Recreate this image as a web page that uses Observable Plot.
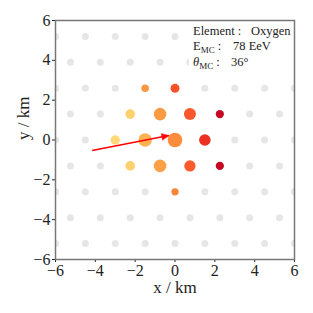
<!DOCTYPE html>
<html>
<head>
<meta charset="utf-8">
<script src="https://cdn.jsdelivr.net/npm/d3@7"></script>
<script src="https://cdn.jsdelivr.net/npm/@observablehq/plot@0.6"></script>
<style>
  html, body { margin: 0; padding: 0; background: white; }
</style>
</head>
<body>
<div id="chart"></div>
<script>
// ---- data ----
const evenRowX = [-6, -4.5, -3, -1.5, 0, 1.5, 3, 4.5, 6];
const oddRowX = [-5.25, -3.75, -2.25, -0.75, 0.75, 2.25, 3.75, 5.25];
const evenRowY = [-5.2, -2.6, 0, 2.6, 5.2];
const oddRowY = [-3.9, -1.3, 1.3, 3.9];

const stationX = [0, -1.5, -3, 1.5, -0.75, 0.75, -2.25, 2.25, -0.75, 0.75, -2.25, 2.25, -1.5, 0, 0];
const stationY = [0, 0, 0, 0, 1.3, 1.3, 1.3, 1.3, -1.3, -1.3, -1.3, -1.3, 2.6, 2.6, -2.6];
const stationSignal = [53, 45, 22, 34, 40, 36, 23, 17, 40, 32, 23, 17, 14, 20, 13];
const stationTiming = [0.49, 0.38, 0.24, 0.70, 0.45, 0.61, 0.27, 0.84, 0.43, 0.60, 0.27, 0.84, 0.46, 0.62, 0.51];

const arrowStart = [-4.16, -0.53];
const arrowEnd = [-0.31, 0.23];

const axisTicks = [-6, -4, -2, 0, 2, 4, 6];
const xLabel = "x / km";
const yLabel = "y / km";

const infoLabels = ["Element", "E", "θ"];
const infoSubs = ["", "MC", "MC"];
const infoValues = ["Oxygen", "78 EeV", "36°"];

// ---- tables ----
const grid = [];
for (const y of evenRowY) for (const x of evenRowX) grid.push({x, y});
for (const y of oddRowY) for (const x of oddRowX) grid.push({x, y});

const stations = stationX.map((x, i) => ({x, y: stationY[i], s: stationSignal[i], t: stationTiming[i]}));

const arrow = [{x1: arrowStart[0], y1: arrowStart[1], x2: arrowEnd[0], y2: arrowEnd[1]}];
const arrowAngle = Math.atan2(arrowEnd[0] - arrowStart[0], arrowEnd[1] - arrowStart[1]) * 180 / Math.PI;

const headShape = {
  draw(context, l) {
    context.moveTo(0, -l);
    context.lineTo(-3.2, 0);
    context.lineTo(3.2, 0);
    context.closePath();
  }
};

const W = 313, H = 313, mL = 55, mR = 19, mT = 20, mB = 54;

const chart = Plot.plot({
  width: W, height: H,
  marginLeft: mL, marginRight: mR, marginTop: mT, marginBottom: mB,
  style: {fontFamily: "'Liberation Serif', serif", fontSize: "16px", color: "#222", background: "white"},
  x: {domain: [-6, 6], ticks: axisTicks, tickSize: 3, tickPadding: 2, label: null},
  y: {domain: [-6, 6], ticks: axisTicks, tickSize: 3, tickPadding: 2, label: null},
  r: {type: "sqrt", domain: [0, 100], range: [0, 10]},
  color: {type: "linear", scheme: "YlOrRd", domain: [0, 1]},
  marks: [
    Plot.dot(grid, {x: "x", y: "y", r: 3.5, fill: "#e6e6e6", stroke: "none", clip: true}),
    Plot.dot(stations, {x: "x", y: "y", r: "s", fill: "t", stroke: "none"}),
    Plot.link(arrow, {x1: "x1", y1: "y1", x2: "x2", y2: "y2", stroke: "red", strokeWidth: 1.5}),
    Plot.vector([arrowEnd], {x: d => d[0], y: d => d[1], length: 7, rotate: arrowAngle, anchor: "end",
      shape: headShape, fill: "red", stroke: "red", strokeWidth: 0.5}),
    Plot.text([xLabel], {text: d => d, frameAnchor: "bottom", dy: 33, fontSize: 17, fill: "#222"}),
    Plot.text([yLabel], {text: d => d, frameAnchor: "left", dx: -32, rotate: -90, fontSize: 17, fill: "#222"}),
    Plot.frame({stroke: "#777", strokeWidth: 1.5})
  ]
});

document.getElementById("chart").appendChild(chart);

// ---- annotation box (upper right) ----
const frameRight = W - mR, frameTop = mT;
const frameNode = chart.querySelector('[aria-label="frame"]');
const g = document.createElementNS("http://www.w3.org/2000/svg", "g");
if (frameNode) chart.insertBefore(g, frameNode); else chart.appendChild(g);
const ann = d3.select(g);
const rect = ann.append("rect").attr("fill", "white");
const tg = ann.append("g").attr("font-size", 12.5).attr("fill", "#222").attr("text-anchor", "start");
const textLeft = frameRight - 101;
const baselines = [frameTop + 15, frameTop + 30, frameTop + 46];
const valueLeft = [frameRight - 43, frameRight - 61, frameRight - 63];
infoLabels.forEach((lab, i) => {
  const t = tg.append("text").attr("x", textLeft).attr("y", baselines[i]);
  const main = t.append("tspan").text(lab);
  if (lab === "θ") main.attr("font-style", "italic");
  if (infoSubs[i]) {
    t.append("tspan").attr("dy", 3).attr("font-size", 9).text(infoSubs[i]);
    t.append("tspan").attr("dy", -3).text(" :");
  } else {
    t.append("tspan").text(" :");
  }
  tg.append("text").attr("x", valueLeft[i]).attr("y", baselines[i]).text(infoValues[i]);
});
const bb = tg.node().getBBox();
rect.attr("x", bb.x - 4).attr("y", frameTop)
    .attr("width", frameRight - (bb.x - 4)).attr("height", bb.y + bb.height + 4 - frameTop);
</script>
</body>
</html>
